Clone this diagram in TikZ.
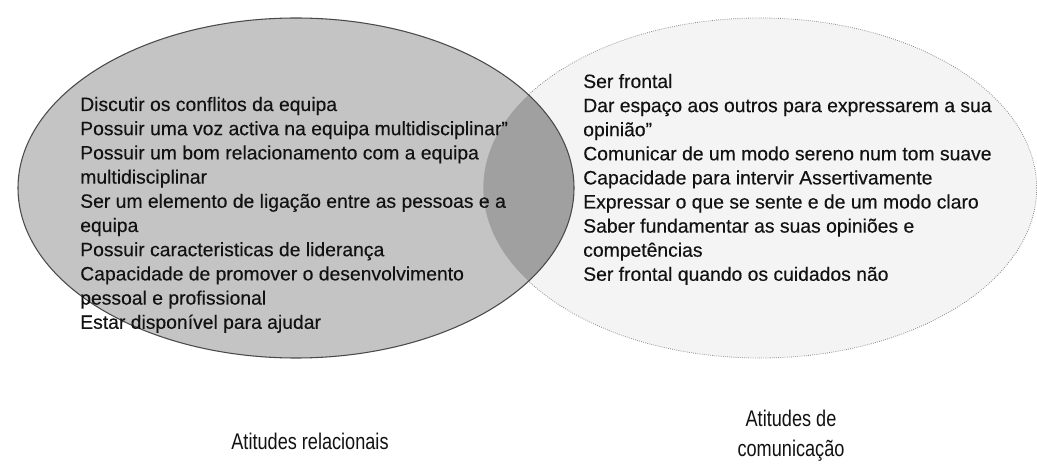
\documentclass[tikz,border=0pt]{standalone}
\usepackage{fontspec}
\setmainfont{Liberation Sans}
\newfontfamily\bodyfont[FakeBold=0.3]{Liberation Sans}
\newfontfamily\labelfont[FakeStretch=0.8]{Liberation Sans}
\usetikzlibrary{shapes.geometric}
\definecolor{lgray}{HTML}{C4C4C4}
\definecolor{lensgray}{HTML}{A0A0A0}
\definecolor{rfill}{HTML}{F4F4F4}
\definecolor{rline}{HTML}{8C8C8C}
\definecolor{lline}{HTML}{4A4A4A}
\definecolor{txt}{HTML}{121212}
\begin{document}
\begin{tikzpicture}[x=0.75pt,y=-0.75pt,
  bodytext/.style={font=\bodyfont\fontsize{14.5}{18}\selectfont, anchor=base west, inner sep=0pt, text=txt},
  labeltext/.style={font=\labelfont\fontsize{17}{20}\selectfont, anchor=base, inner sep=0pt, text=txt},
  venn/.style={ellipse, inner sep=0pt, minimum width=415pt, minimum height=255pt}]
\useasboundingbox (0,0) rectangle (1037,466);
% right ellipse
\node[venn, fill=rfill, draw=rline, densely dotted, line width=0.6pt] (R) at (760,188) {};
% left ellipse fill
\node[venn, fill=lgray, minimum width=417pt] (L) at (296,188) {};
% lens
\begin{scope}
  \clip (L.center) ellipse [x radius=208.5pt, y radius=127.5pt];
  \fill[lensgray] (R.center) ellipse [x radius=207.5pt, y radius=127.5pt];
\end{scope}
% left outline
\draw[lline, line width=0.8pt] (L.center) ellipse [x radius=208.5pt, y radius=127.5pt];
% left text
\foreach \t [count=\i from 0] in {Discutir os conflitos da equipa,
  Possuir uma voz activa na equipa multidisciplinar”,
  Possuir um bom relacionamento com a equipa,
  multidisciplinar,
  Ser um elemento de ligação entre as pessoas e a,
  equipa,
  Possuir caracteristicas de liderança,
  Capacidade de promover o desenvolvimento,
  pessoal e profissional,
  Estar disponível para ajudar}
  \node[bodytext] (l\i) at (80,{111+24.2*\i}) {\t};
% right text
\foreach \t [count=\i from 0] in {Ser frontal,
  Dar espaço aos outros para expressarem a sua,
  opinião”,
  Comunicar de um modo sereno num tom suave,
  Capacidade para intervir Assertivamente,
  Expressar o que se sente e de um modo claro,
  Saber fundamentar as suas opiniões e,
  competências,
  Ser frontal quando os cuidados não}
  \node[bodytext] (r\i) at (583,{88+24.1*\i}) {\t};
% labels
\node[labeltext] (labL) at (310,449) {Atitudes relacionais};
\node[labeltext] (labR1) at (791,426) {Atitudes de};
\node[labeltext] (labR2) at (791,456) {comunicação};
\end{tikzpicture}
\end{document}
